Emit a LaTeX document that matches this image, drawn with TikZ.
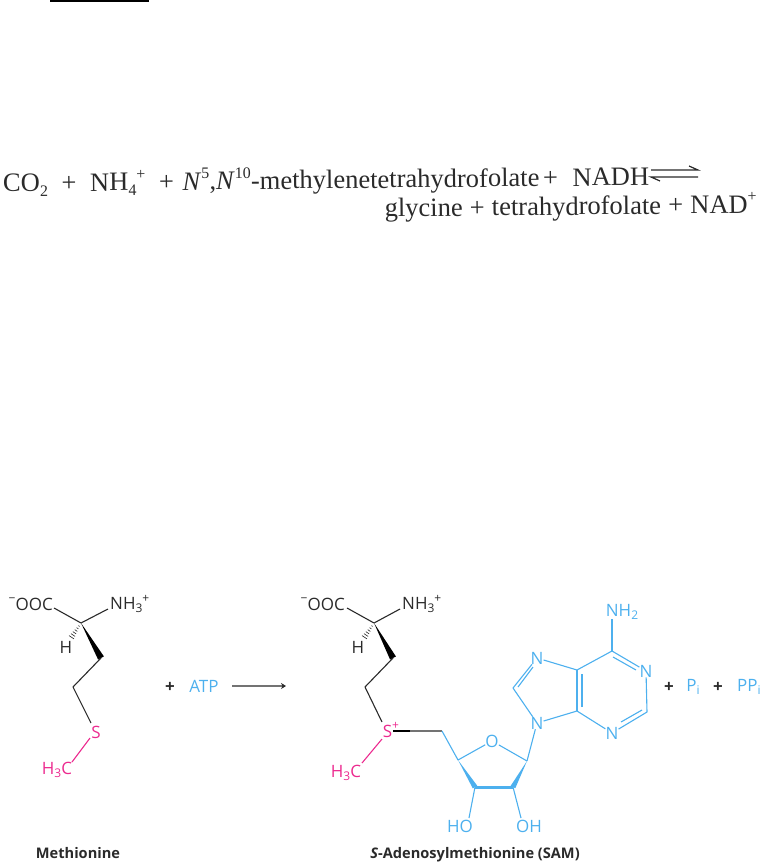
\documentclass[tikz,border=0pt]{standalone}
\usepackage{fontspec}
\setmainfont{Liberation Serif}
\newfontfamily\chem{Open Sans}
\usetikzlibrary{calc,arrows.meta}
\definecolor{skyb}{HTML}{4DB0EE}
\definecolor{magn}{HTML}{EC2A8F}
\definecolor{ink}{HTML}{2A2A2A}
\newcommand{\lowr}[1]{\raisebox{-.2em}{\fontsize{16}{16}\selectfont #1}}
\newcommand{\upr}[1]{\raisebox{.42em}{\fontsize{16}{16}\selectfont #1}}
\newcommand{\lows}[1]{\raisebox{-.2em}{\fontsize{12}{12}\selectfont #1}}
\newcommand{\ups}[1]{\raisebox{.42em}{\fontsize{12}{12}\selectfont #1}}
\tikzset{
  eqn/.style={inner sep=0pt,font=\fontsize{26.5}{26.5}\selectfont,text=ink,rotate=0.6},
  atom/.style={inner sep=0pt,font=\chem\fontsize{17}{17}\selectfont,text=ink},
  batom/.style={atom,text=skyb},
  matom/.style={atom,text=magn},
  plus/.style={atom,font=\chem\bfseries\fontsize{17}{17}\selectfont},
  title/.style={inner sep=0pt,anchor=base,font=\chem\bfseries\fontsize{14.6}{14.6}\selectfont,text=ink},
  bond/.style={draw=ink,line width=1.1pt,line join=round},
  bbond/.style={draw=skyb,line width=1.1pt,line join=round},
  mbond/.style={draw=magn,line width=1.1pt},
}
\begin{document}
\begin{tikzpicture}[x=1pt,y=-1pt]
\useasboundingbox (0,0) rectangle (766,864);
\fill[black] (50,0) rectangle (149,2);
% equation
\node[eqn,anchor=base west] (eq1) at (3,192) {CO\lowr{2}\hspace{7pt} + \hspace{7pt}NH\lowr{4}\upr{+}\hspace{7pt} + \hspace{2pt}\textit{N}\upr{5},\textit{N}\upr{10}-methylenetetrahydrofolate\hspace{-3pt} + \hspace{8pt}NADH};
\node[eqn,anchor=base east] (eq2) at (757,213) {glycine\hspace{.5pt} + \hspace{.5pt}tetrahydrofolate\hspace{.5pt} + \hspace{.5pt}NAD\upr{+}};
\coordinate (ea) at (651,170);
\coordinate (eb) at (698,170);
\coordinate (ec) at (651,177);
\coordinate (ed) at (698,177);
\draw[line width=1.2pt,ink] (ea) -- (eb) -- ++(-9,-4);
\draw[line width=1.2pt,ink] (ed) -- (ec) -- ++(9,4);
% methionine
\node[atom,anchor=east] (mcoo) at (53,604) {\ups{−}OOC};
\node[atom,anchor=west] (mnh) at (110,604) {NH\lows{3}\ups{+}};
\node[atom] (mh) at (66,647) {H};
\node[matom] (ms) at (96,732) {S};
\node[matom] (mch) at (57,770) {H\lows{3}C};
\coordinate (ma) at (81,623);
\coordinate (mb) at (101,658);
\coordinate (mc) at (73,687);
\coordinate (mhh) at (71,638);
\coordinate (mc0) at (54,608);
\coordinate (mn0) at (108,609);
\coordinate (ms0) at (91,723);
\coordinate (ms1) at (90,738);
\coordinate (mm0) at (72,762);
\draw[bond] (mc0) -- (ma) -- (mn0);
\fill[black] (ma) -- ($(mb)!3.3pt!90:(ma)$) -- ($(mb)!3.3pt!-90:(ma)$) -- cycle;
\foreach \t/\w in {.2/.7,.35/1.1,.5/1.6,.65/2,.8/2.5,.95/3}
  \draw[ink,line width=.6pt] ($(ma)!\t!(mhh)!\w pt!90:(mhh)$) -- ($(ma)!\t!(mhh)!\w pt!-90:(mhh)$);
\draw[bond] (mb) -- (mc) -- (ms0);
\draw[mbond] (ms1) -- (mm0);
\node[title] (mt) at (78,858) {Methionine};
% reaction
\node[plus] (p1) at (170,687) {+};
\node[batom] (atp) at (204,686) {ATP};
\coordinate (ar1) at (232,686);
\coordinate (ar2) at (286,686);
\draw[draw=black!55,line width=1.5pt,-{Stealth[length=5pt,width=6pt,color=ink]}] (ar1) -- (ar2);
% SAM
\node[atom,anchor=east] (scoo) at (345,604) {\ups{−}OOC};
\node[atom,anchor=west] (snh) at (402,604) {NH\lows{3}\ups{+}};
\node[atom] (sh) at (358,647) {H};
\node[matom,anchor=base] (ss) at (391,737) {S\ups{+}};
\node[matom] (sch) at (346,773) {H\lows{3}C};
\coordinate (sa) at (374,623);
\coordinate (sb) at (393,658);
\coordinate (sc) at (365,687);
\coordinate (shh) at (364,638);
\coordinate (sc0) at (347,608);
\coordinate (sn0) at (400,609);
\coordinate (ss0) at (382,722);
\coordinate (ss1) at (382,739);
\coordinate (sm0) at (362,763);
\draw[bond] (sc0) -- (sa) -- (sn0);
\fill[black] (sa) -- ($(sb)!3.3pt!90:(sa)$) -- ($(sb)!3.3pt!-90:(sa)$) -- cycle;
\foreach \t/\w in {.2/.7,.35/1.1,.5/1.6,.65/2,.8/2.5,.95/3}
  \draw[ink,line width=.6pt] ($(sa)!\t!(shh)!\w pt!90:(shh)$) -- ($(sa)!\t!(shh)!\w pt!-90:(shh)$);
\draw[bond] (sb) -- (sc) -- (ss0);
\draw[mbond] (ss1) -- (sm0);
% ribose
\coordinate (s5a) at (393,731);
\coordinate (s5b) at (410,731);
\coordinate (c5) at (442,731);
\coordinate (c4) at (458,760);
\coordinate (c3) at (475,787);
\coordinate (c2) at (513,787);
\coordinate (c1) at (527,761);
\node[batom] (ro) at (492,741) {O};
\node[batom] (ho3) at (460,826) {HO};
\node[batom] (oh2) at (529,826) {OH};
\coordinate (h3) at (469,818);
\coordinate (h2) at (521,818);
\draw[line width=1.2pt,black] (s5a) -- (s5b);
\draw[line width=1.2pt,black!55] (s5b) -- (c5);
\draw[bbond] (c5) -- (c4) -- (ro) -- (c1);
\fill[skyb] (c4) -- ($(c3)!2.6pt!90:(c4)$) -- ($(c3)!2.6pt!-90:(c4)$) -- cycle;
\fill[skyb] (c1) -- ($(c2)!2.6pt!90:(c1)$) -- ($(c2)!2.6pt!-90:(c1)$) -- cycle;
\draw[skyb,line width=3pt] (c3) -- (c2);
\draw[bbond] (c3) -- (h3);
\draw[bbond] (c2) -- (h2);
% adenine
\node[batom] (n9) at (537,723) {N};
\node[batom] (n7) at (537,658) {N};
\node[batom] (n1) at (646,671) {N};
\node[batom] (n3) at (612,733) {N};
\node[batom] (nh2) at (622,612) {NH\lows{2}};
\coordinate (c8) at (513,688);
\coordinate (c44) at (577,711);
\coordinate (c55) at (577,670);
\coordinate (c6) at (612,651);
\coordinate (c22) at (647,712);
\coordinate (nh0) at (612,619);
\draw[bbond] (c1) -- (n9);
\draw[bbond] (n9) -- (c8) -- (n7) -- (c55) -- (c6) -- (n1) -- (c22) -- (n3) -- (c44) -- (n9);
\draw[bbond] (c44) -- (c55);
\draw[bbond] (c6) -- (nh0);
\draw[bbond] (518,687) -- (533,667);
\draw[bbond] (582,707) -- (582,674);
\draw[bbond] (613,657) -- (636,670);
\draw[bbond] (642,710) -- (621,722);
% products
\node[plus] (p2) at (669,687) {+};
\node[batom] (pi) at (693,687) {P\lows{i}};
\node[plus] (p3) at (718,687) {+};
\node[batom,anchor=west] (ppi) at (737,687) {PP\lows{i}};
\node[title] (st) at (475,858) {\textit{S}-Adenosylmethionine (SAM)};
\end{tikzpicture}
\end{document}
